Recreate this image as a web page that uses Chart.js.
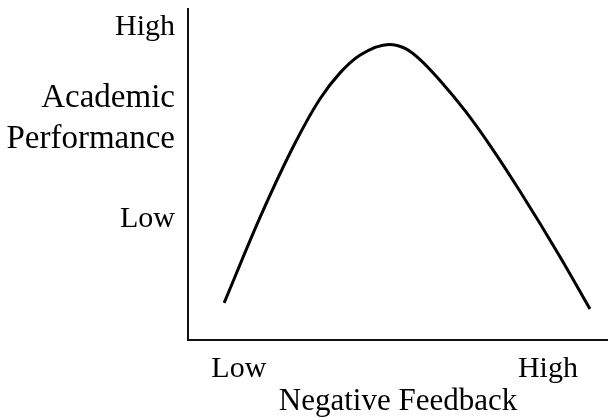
<!DOCTYPE html>
<html>
<head>
<meta charset="utf-8">
<script src="https://cdn.jsdelivr.net/npm/chart.js@4"></script>
<style>
  html,body{margin:0;padding:0;background:#fff;}
  #wrap{width:608px;height:420px;}
</style>
</head>
<body>
<div id="wrap"><canvas id="myChart"></canvas></div>
<script>
// curve (x = negative feedback, y = academic performance, both 0-100)
const feedback =[8.6,17.1,25.5,31.4,36.2,41.0,47.9,51.7,55.2,60.0,66.0,71.9,79.0,88.6,95.7];
const performance =[11.2,36.9,59.5,72.8,80.7,86.1,89.3,88.1,84.8,78.4,69.2,58.8,45.0,25.1,9.4];

const xTickValues =[12.1,85.7];
const xTickLabels =['Low','High'];
const yTickValues =[36.4,66.8,94.4];
const yTickLabels =['Low',['Academic','Performance'],'High'];

const points =[];
for (i=0;i<feedback.length;i++){
    points.push({x:feedback[i],y:performance[i]})
}

const serif ="'Liberation Serif','Times New Roman',serif";

const ctx= document.getElementById('myChart').getContext('2d');

const myChart = new Chart(ctx,{
    type:'line',
    data:{
        datasets:[{
            data:points,
            borderColor:'#000',
            borderWidth:3,
            pointRadius:0,
            cubicInterpolationMode:'monotone',
            fill:false
        }]
    },
    options:{
        responsive:true,
        maintainAspectRatio:false,
        animation:false,
        layout:{padding:{top:9,left:0,right:0,bottom:0}},
        scales:{
            x:{
                type:'linear',
                min:0,
                max:100,
                afterBuildTicks:function(scale){
                    scale.ticks = xTickValues.map(function(v){ return {value:v} });
                },
                afterFit:function(scale){
                    scale.height = 80;
                    scale.paddingLeft = 0;
                    scale.paddingRight = 0;
                },
                ticks:{
                    color:'#000',
                    font:{family:serif,size:30},
                    padding:11,
                    autoSkip:false,
                    maxRotation:0,
                    callback:function(value,index){ return xTickLabels[index] }
                },
                grid:{drawOnChartArea:false,drawTicks:false},
                border:{display:true,color:'#111',width:2},
                title:{
                    display:true,
                    text:'Negative Feedback',
                    color:'#000',
                    font:{family:serif,size:31},
                    padding:{top:0,bottom:0}
                }
            },
            y:{
                type:'linear',
                min:0,
                max:100,
                afterBuildTicks:function(scale){
                    scale.ticks = yTickValues.map(function(v){ return {value:v} });
                },
                afterFit:function(scale){
                    scale.width = 188;
                    scale.paddingTop = 0;
                    scale.paddingBottom = 0;
                },
                ticks:{
                    color:'#000',
                    // the two-line axis name is set a little bigger than High/Low
                    font:function(c){
                        if (c.index==1) return {family:serif,size:33,lineHeight:1.22};
                        return {family:serif,size:30};
                    },
                    padding:13,
                    autoSkip:false,
                    callback:function(value,index){ return yTickLabels[index] }
                },
                grid:{drawOnChartArea:false,drawTicks:false},
                border:{display:true,color:'#111',width:2}
            }
        },
        plugins:{
            legend:{display:false},
            tooltip:{enabled:false}
        }
    }
});
</script>
</body>
</html>
